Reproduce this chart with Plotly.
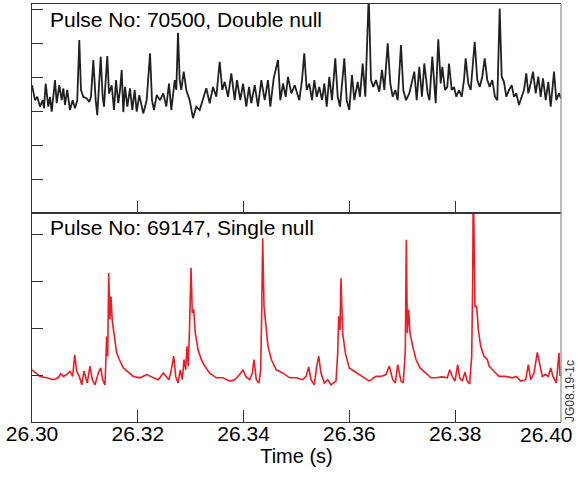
import plotly.graph_objects as go

# Time offsets (ms after 26.30 s) and signal (arb. units)
top_pts = [
    (0.0,3.76),(0.57,3.32),(1.00,3.42),(1.51,3.13),(2.02,3.32),(2.27,3.08),(2.59,3.81),(3.08,3.13),(3.40,3.42),(3.72,2.98),
    (4.35,3.91),(4.67,3.23),(5.16,3.76),(5.61,3.32),(5.92,3.67),(6.24,3.18),(6.67,3.62),(7.18,3.03),(7.69,3.32),(8.13,3.08),
    (8.56,3.32),(8.94,5.09),(9.26,3.62),(9.70,3.42),(10.34,3.37),(10.83,3.27),(11.15,3.42),(11.59,4.50),(12.04,3.32),(12.34,2.88),
    (12.99,4.60),(13.36,3.42),(13.61,3.13),(14.23,4.62),(14.56,3.52),(15.07,3.76),(15.50,3.03),(15.88,3.91),(16.31,3.23),(16.64,3.62),
    (16.96,4.21),(17.26,2.97),(17.58,3.71),(18.02,3.13),(18.53,3.67),(18.96,3.03),(19.41,3.62),(19.79,2.98),(20.28,3.47),(21.04,2.93),
    (21.68,3.32),(22.31,4.70),(22.68,3.32),(23.06,3.03),(23.57,3.47),(24.20,3.32),(24.82,3.52),
    (25.39,3.13),(25.90,3.81),(26.33,3.03),(26.98,3.91),(27.28,3.62),(27.60,5.30),(27.92,3.91),(28.22,3.62),(28.68,4.16),(29.17,3.62),
    (29.81,3.32),(30.43,2.79),(31.06,3.13),(31.70,3.03),(32.33,3.32),(32.95,3.67),(33.59,3.23),(34.22,3.71),(34.84,3.42),(35.48,4.45),
    (35.97,3.62),(36.43,3.86),(37.05,3.42),(37.68,4.11),(38.32,3.32),(38.75,3.91),(39.38,3.32),(39.89,3.81),(40.51,3.13),(41.02,3.71),
    (41.46,3.23),(42.10,3.76),(42.72,3.13),(43.35,3.91),(43.99,3.32),(44.61,3.91),(45.05,3.13),(45.69,3.96),(46.50,4.50),(46.94,3.32),
    (47.45,3.81),(47.96,3.42),(48.39,4.01),(49.02,3.52),(49.66,3.76),
    (50.53,3.32),(51.04,3.91),(51.47,4.70),(51.93,3.62),(52.42,3.81),(52.93,3.32),(53.37,3.91),(53.82,3.42),(54.31,3.71),(54.82,3.32),
    (55.26,3.81),(55.71,3.13),(56.20,4.01),(56.71,3.32),(57.33,4.55),(57.79,3.42),(58.22,3.13),(59.04,4.55),(59.49,3.32),(59.98,3.03),
    (60.49,4.06),(60.93,3.32),(61.57,3.86),(62.00,3.42),(62.51,4.40),(63.01,3.42),(63.65,6.40),(64.08,3.91),(64.52,3.71),(65.03,3.91),
    (65.65,3.57),(66.16,4.21),(66.60,3.62),(67.24,4.99),(67.73,3.81),(68.19,3.42),(68.68,3.62),(69.13,3.32),(69.75,4.94),(70.19,3.62),
    (70.70,3.32),(71.32,3.52),(71.83,3.91),(72.27,4.16),(72.72,3.32),(73.21,4.30),(73.72,3.42),(74.16,4.40),(74.80,3.52),
    (75.14,3.32),(75.67,4.60),(76.31,3.23),(76.80,5.11),(77.26,3.81),(77.56,4.30),(78.07,3.62),(78.51,3.71),(78.83,4.40),(79.34,3.62),
    (79.77,3.71),(80.21,3.42),(80.72,3.62),(81.23,3.42),(81.66,3.91),(81.98,4.55),(82.48,3.81),(82.93,3.62),(83.69,5.04),(84.18,3.91),
    (84.63,3.71),(85.12,4.01),(85.58,4.55),(86.07,3.91),(86.52,3.71),(87.01,3.91),(87.52,3.42),(87.96,3.32),(88.41,6.02),(88.79,4.01),
    (89.22,3.86),(89.66,3.42),(90.17,3.62),(90.68,3.76),(91.12,3.42),(91.55,3.52),(92.06,3.18),(92.57,3.42),(93.01,3.62),(93.44,4.11),
    (93.82,3.52),(94.27,3.81),(94.71,4.16),(95.22,3.52),(95.71,4.01),(96.16,3.42),(96.60,3.96),(97.11,3.32),(97.60,3.86),(98.05,3.13),
    (98.68,4.16),(99.11,3.32),(99.62,3.52),(100.0,3.37),
]

bottom_pts = [
    (0.0,1.11),(0.57,1.06),(1.51,0.97),(2.78,0.94),(4.03,0.90),(4.97,0.94),(5.43,1.03),(5.92,0.97),(6.56,1.01),(7.18,1.08),
    (7.69,0.97),(8.07,1.43),(8.45,1.08),(8.94,0.97),(9.40,0.79),(9.83,1.08),(10.21,0.90),(10.45,0.83),(10.96,1.19),(11.40,0.90),
    (11.91,0.79),(12.53,1.04),(12.99,1.15),(13.36,0.90),(13.80,0.79),(14.12,1.82),(14.31,1.40),(14.50,3.17),(14.74,2.18),(14.93,2.67),
    (15.18,2.14),(15.50,1.89),(16.01,1.47),(16.50,1.33),(17.26,1.15),(18.20,1.06),(19.15,0.97),(20.42,0.94),(21.68,1.01),(22.93,0.94),
    (23.88,0.90),(24.82,1.04),
    (25.39,0.97),(25.90,0.90),(26.33,1.11),(26.79,1.40),(27.16,0.97),(27.60,0.83),(28.03,1.11),(28.41,0.90),(28.73,1.33),(29.05,1.11),
    (29.30,1.61),(29.55,1.19),(29.81,2.11),(30.06,3.28),(30.30,2.32),(30.57,2.39),(30.87,1.89),(31.38,1.54),(32.00,1.33),(32.65,1.19),
    (33.59,1.04),(34.84,0.94),(36.11,0.94),(37.37,0.87),(38.32,0.90),(39.26,1.01),(39.89,1.11),(40.40,0.97),(41.15,0.90),(41.65,1.04),
    (41.97,1.33),(42.40,0.90),(42.91,0.83),(43.23,1.11),(43.42,2.32),(43.61,3.91),(43.86,2.46),(44.18,2.04),(44.61,1.61),(45.24,1.33),
    (46.18,1.11),(47.45,1.04),(48.71,0.94),(49.96,0.94),
    (51.17,0.90),(51.80,0.97),(52.31,1.17),(52.74,0.90),(53.37,0.79),(53.82,1.19),(54.20,1.40),(54.63,1.04),(55.26,0.83),(55.90,0.90),
    (56.52,0.79),(57.47,0.87),(57.79,1.47),(57.98,2.25),(58.22,1.96),(58.41,3.06),(58.73,1.89),(59.23,1.47),(59.98,1.15),(60.93,1.08),
    (62.51,0.97),(63.76,0.87),(65.03,0.97),(65.97,0.97),(66.92,1.01),(67.54,1.19),(68.19,0.90),(68.68,0.83),(69.13,1.22),(69.75,0.87),
    (70.19,0.83),(70.57,1.54),(70.76,3.88),(70.95,1.89),(71.21,2.39),(71.46,1.89),(71.97,1.61),(72.59,1.33),(73.35,1.15),(74.48,1.04),
    (75.43,0.94),
    (76.31,0.94),(77.56,0.96),(78.51,0.94),(78.96,1.11),(79.45,0.97),(79.96,0.87),(80.47,1.22),(80.85,0.94),(81.34,0.87),(81.85,1.06),
    (82.29,0.87),(82.74,0.81),(83.12,1.40),(83.31,3.03),(83.42,5.20),(83.61,3.38),(83.74,2.46),(84.06,2.46),(84.37,1.96),(84.82,1.61),
    (85.44,1.40),(86.07,1.33),(86.39,1.19),(87.33,1.08),(88.28,0.97),(89.55,0.97),(90.79,0.94),(91.55,0.97),(92.38,0.87),(93.33,0.90),
    (93.82,1.22),(94.27,0.90),(94.90,1.04),(95.52,1.48),(96.03,1.19),(96.46,0.97),(97.11,1.01),(97.60,0.97),(98.05,1.15),(98.49,0.97),
    (99.11,0.83),(99.62,1.47),(99.81,0.98),(100.0,1.00),
]

t0 = 26.30
x_tickvals = [26.30, 26.32, 26.34, 26.36, 26.38, 26.40]
x_ticktext = ["26.30", "26.32", "26.34", "26.36", "26.38", ""]
last_tick_label = "26.40"   # drawn right-aligned so it stays inside the page, as in the reference
top_yticks = [1, 2, 3, 4, 5, 6]
bottom_yticks = [1, 2, 3, 4]
top_label = "Pulse No: 70500, Double null"
bottom_label = "Pulse No: 69147, Single null"
x_title = "Time (s)"
figure_code = "JG08.19-1c"

def unzip(pts):
    return [t0 + p[0] / 1000.0 for p in pts], [p[1] for p in pts]

tx, ty = unzip(top_pts)
bx, by = unzip(bottom_pts)

FONT = "Liberation Sans, Arial, sans-serif"
fig = go.Figure()
fig.add_trace(go.Scatter(x=bx, y=by, mode="lines", xaxis="x", yaxis="y",
                         line=dict(color="#ed1c24", width=1.6), showlegend=False))
fig.add_trace(go.Scatter(x=tx, y=ty, mode="lines", xaxis="x2", yaxis="y2",
                         line=dict(color="#231f20", width=1.8), showlegend=False))

x_common = dict(showline=True, linecolor="#333333", linewidth=1, mirror=True, automargin=False,
                showgrid=False, zeroline=False, ticks="inside", tickcolor="#333333")
y_common = dict(showline=True, linecolor="#333333", linewidth=1, mirror=False, automargin=False,
                showgrid=False, zeroline=False, ticks="inside", tickcolor="#333333")

fig.update_layout(
    width=578, height=477,
    margin=dict(l=32, r=17, t=4, b=55, autoexpand=False),
    paper_bgcolor="white", plot_bgcolor="white",
    font=dict(family=FONT, color="black"),
    xaxis=dict(domain=[0, 1], range=[26.30, 26.40], anchor="y",
               tickvals=x_tickvals, ticktext=x_ticktext, ticklen=12,
               ticklabelstandoff=-7,
               tickfont=dict(size=21, family=FONT),
               title=dict(text=x_title, font=dict(size=20, family=FONT), standoff=2),
               **x_common),
    xaxis2=dict(domain=[0, 1], range=[26.30, 26.40], anchor="y2", matches="x",
                tickvals=x_tickvals, ticklen=12, showticklabels=False, **x_common),
    yaxis=dict(domain=[0, 0.5], range=[0, 4.447], anchor="x",
               tickvals=bottom_yticks, ticklen=11, showticklabels=False, **y_common),
    yaxis2=dict(domain=[0.5, 1], range=[0, 6.15], anchor="x2",
                tickvals=top_yticks, ticklen=11, showticklabels=False, **y_common),
    shapes=[
        dict(type="line", xref="paper", yref="paper", x0=1, x1=1, y0=0, y1=1,
             line=dict(color="#8c8c8c", width=1.2)),
    ],
    annotations=[
        dict(text=top_label, xref="paper", yref="paper", x=0.030, y=0.963,
             xanchor="left", yanchor="middle", showarrow=False,
             font=dict(size=21, family=FONT, color="black")),
        dict(text=bottom_label, xref="paper", yref="paper", x=0.030, y=0.4665,
             xanchor="left", yanchor="middle", showarrow=False,
             font=dict(size=21, family=FONT, color="black")),
        dict(text=last_tick_label, xref="paper", yref="paper", x=1.0265, y=-0.031,
             xanchor="right", yanchor="middle", showarrow=False,
             font=dict(size=21, family=FONT, color="black")),
        dict(text=figure_code, xref="paper", yref="paper", x=1.016, y=0.075,
             xanchor="center", yanchor="middle", textangle=-90, showarrow=False,
             font=dict(size=12, family=FONT, color="#333333")),
    ],
)

fig.write_html("out.html")
